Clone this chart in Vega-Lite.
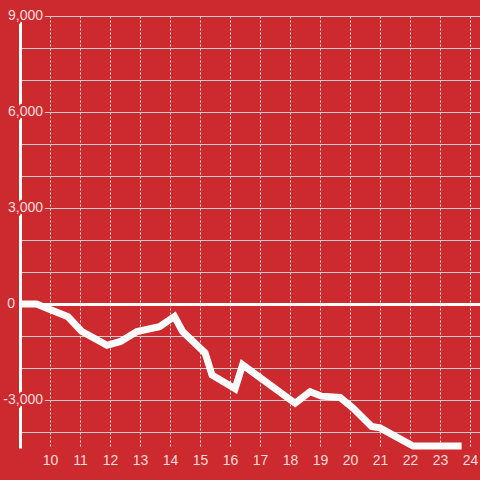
{
  "$schema": "https://vega.github.io/schema/vega-lite/v6.json",
  "width": 460,
  "height": 432,
  "autosize": {"type": "none"},
  "padding": {"left": 20, "top": 16, "right": 0, "bottom": 32},
  "background": "#cc2a2e",
  "config": {
    "view": {"stroke": null},
    "font": "Liberation Sans",
    "axisX": {
      "title": null,
      "domain": false,
      "ticks": false,
      "labelPadding": 5,
      "labelFontSize": 14,
      "labelColor": "#f4dcdc",
      "labelFlush": false,
      "labelOverlap": false,
      "grid": true,
      "gridColor": "#e4e4e4",
      "gridDash": [2, 2],
      "gridWidth": 1,
      "zindex": 0
    },
    "axisY": {
      "title": null,
      "labels": false,
      "ticks": false,
      "domain": true,
      "domainColor": "white",
      "domainWidth": 3,
      "grid": true,
      "gridColor": "#cccccc",
      "gridWidth": 1,
      "zindex": 0
    }
  },
  "datasets": {
    "series": [
      {"x": 9.0, "y": 0},
      {"x": 9.55, "y": 0},
      {"x": 10.6, "y": -400},
      {"x": 11.05, "y": -850},
      {"x": 11.9, "y": -1290},
      {"x": 12.35, "y": -1170},
      {"x": 12.9, "y": -860},
      {"x": 13.65, "y": -710},
      {"x": 14.15, "y": -390},
      {"x": 14.42, "y": -860},
      {"x": 15.17, "y": -1530},
      {"x": 15.4, "y": -2220},
      {"x": 16.17, "y": -2650},
      {"x": 16.42, "y": -1900},
      {"x": 18.17, "y": -3100},
      {"x": 18.67, "y": -2740},
      {"x": 19.05, "y": -2880},
      {"x": 19.67, "y": -2920},
      {"x": 20.1, "y": -3250},
      {"x": 20.72, "y": -3830},
      {"x": 21.0, "y": -3870},
      {"x": 22.1, "y": -4440},
      {"x": 23.72, "y": -4440}
    ],
    "ylabels": [
      {"y": 9000, "label": "9,000"},
      {"y": 6000, "label": "6,000"},
      {"y": 3000, "label": "3,000"},
      {"y": 0, "label": "0"},
      {"y": -3000, "label": "-3,000"}
    ]
  },
  "layer": [
    {
      "data": {"name": "series"},
      "mark": {"type": "line", "color": "white", "strokeWidth": 7, "clip": false, "strokeJoin": "miter"},
      "encoding": {
        "x": {
          "field": "x",
          "type": "quantitative",
          "scale": {"domain": [9, 24.333], "nice": false, "zero": false},
          "axis": {"values": [10, 11, 12, 13, 14, 15, 16, 17, 18, 19, 20, 21, 22, 23, 24]}
        },
        "y": {
          "field": "y",
          "type": "quantitative",
          "scale": {"domain": [-4500, 9000], "nice": false},
          "axis": {
            "values": [-4000, -3000, -2000, -1000, 0, 1000, 2000, 3000, 4000, 5000, 6000, 7000, 8000, 9000],
            "gridColor": {"condition": {"test": "datum.value === 0", "value": "white"}, "value": "#cccccc"},
            "gridWidth": {"condition": {"test": "datum.value === 0", "value": 3}, "value": 1}
          }
        }
      }
    },
    {
      "data": {"name": "ylabels"},
      "transform": [{"filter": "datum.y !== 0"}],
      "mark": {"type": "text", "align": "right", "baseline": "middle", "dx": 23, "fontSize": 14, "stroke": "#cc2a2e", "strokeWidth": 5, "strokeJoin": "round", "fill": "#cc2a2e", "clip": false},
      "encoding": {
        "x": {"datum": 9, "type": "quantitative", "axis": {"values": [10, 11, 12, 13, 14, 15, 16, 17, 18, 19, 20, 21, 22, 23, 24]}},
        "y": {
          "field": "y",
          "type": "quantitative",
          "axis": {
            "values": [-4000, -3000, -2000, -1000, 0, 1000, 2000, 3000, 4000, 5000, 6000, 7000, 8000, 9000],
            "gridColor": {"condition": {"test": "datum.value === 0", "value": "white"}, "value": "#cccccc"},
            "gridWidth": {"condition": {"test": "datum.value === 0", "value": 3}, "value": 1}
          }
        },
        "text": {"field": "label"}
      }
    },
    {
      "data": {"name": "ylabels"},
      "transform": [{"filter": "datum.y !== 0"}],
      "mark": {"type": "text", "align": "right", "baseline": "middle", "dx": 23, "fontSize": 14, "fill": "#f4dcdc", "clip": false},
      "encoding": {
        "x": {"datum": 9, "type": "quantitative", "axis": {"values": [10, 11, 12, 13, 14, 15, 16, 17, 18, 19, 20, 21, 22, 23, 24]}},
        "y": {
          "field": "y",
          "type": "quantitative",
          "axis": {
            "values": [-4000, -3000, -2000, -1000, 0, 1000, 2000, 3000, 4000, 5000, 6000, 7000, 8000, 9000],
            "gridColor": {"condition": {"test": "datum.value === 0", "value": "white"}, "value": "#cccccc"},
            "gridWidth": {"condition": {"test": "datum.value === 0", "value": 3}, "value": 1}
          }
        },
        "text": {"field": "label"}
      }
    },
    {
      "data": {"name": "ylabels"},
      "transform": [{"filter": "datum.y === 0"}],
      "mark": {"type": "text", "align": "right", "baseline": "middle", "dx": -5, "fontSize": 14, "fill": "#f4dcdc", "clip": false},
      "encoding": {
        "x": {"datum": 9, "type": "quantitative", "axis": {"values": [10, 11, 12, 13, 14, 15, 16, 17, 18, 19, 20, 21, 22, 23, 24]}},
        "y": {
          "field": "y",
          "type": "quantitative",
          "axis": {
            "values": [-4000, -3000, -2000, -1000, 0, 1000, 2000, 3000, 4000, 5000, 6000, 7000, 8000, 9000],
            "gridColor": {"condition": {"test": "datum.value === 0", "value": "white"}, "value": "#cccccc"},
            "gridWidth": {"condition": {"test": "datum.value === 0", "value": 3}, "value": 1}
          }
        },
        "text": {"field": "label"}
      }
    }
  ]
}
